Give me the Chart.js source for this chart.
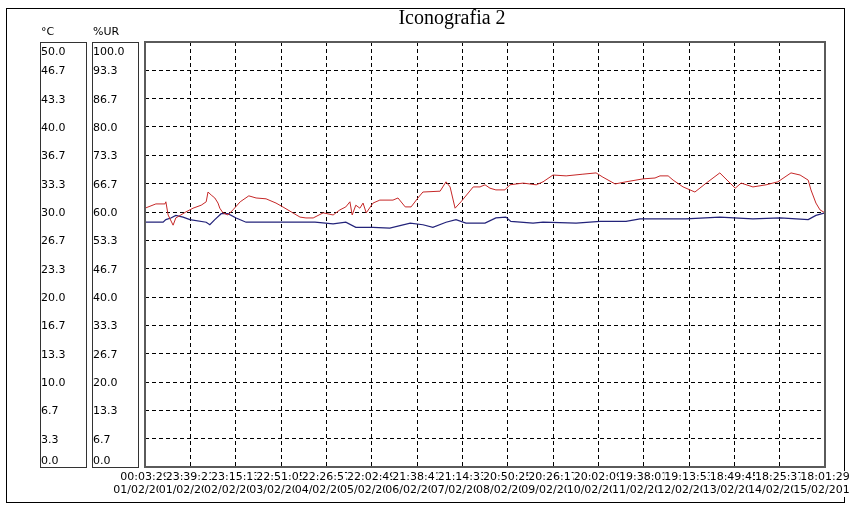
<!DOCTYPE html>
<html lang="it">
<head>
<meta charset="UTF-8">
<title>Iconografia 2</title>
<script src="https://cdn.jsdelivr.net/npm/chart.js@4.4.0/dist/chart.umd.min.js"></script>
<style>
    html, body { margin: 0; padding: 0; background: #ffffff; }
    #wrap { width: 849px; height: 506px; }
</style>
</head>
<body>
<div id="wrap"><canvas id="chart" width="849" height="506"></canvas></div>
<script>
// x positions are in days from the first sample (0 .. 15)
const urDays = [0.00, 0.24, 0.44, 0.46, 0.51, 0.62, 0.68, 0.79, 0.90, 1.06, 1.24, 1.35, 1.39, 1.46, 1.54, 1.61, 1.65, 1.72, 1.83, 1.94,
    2.10, 2.29, 2.45, 2.67, 2.89, 3.04, 3.26, 3.42, 3.55, 3.71, 3.93, 4.15, 4.30, 4.43, 4.52, 4.57, 4.65, 4.74, 4.81, 4.88,
    5.03, 5.18, 5.47, 5.58, 5.74, 5.87, 6.02, 6.13, 6.51, 6.64, 6.73, 6.84, 6.97, 7.24, 7.39, 7.50, 7.61, 7.74, 7.94, 8.05,
    8.34, 8.63, 8.78, 9.00, 9.29, 9.66, 9.95, 10.10, 10.37, 10.61, 10.99, 11.25, 11.36, 11.54, 11.65, 11.87, 12.13, 12.38, 12.68, 13.02,
    13.15, 13.41, 13.70, 13.96, 14.25, 14.45, 14.63, 14.69, 14.80, 14.89, 15.00];
const urValues = [60.9, 61.9, 61.9, 62.4, 59.3, 56.9, 58.6, 59.3, 60.0, 60.9, 61.6, 62.4, 64.7, 64.0, 63.3, 62.1, 60.9, 59.8, 59.3, 60.5,
    62.4, 63.8, 63.3, 63.1, 62.1, 61.2, 59.8, 58.8, 58.6, 58.6, 59.8, 59.3, 60.5, 61.2, 62.4, 59.3, 61.6, 60.9, 62.1, 59.8,
    62.1, 62.8, 62.8, 63.3, 61.2, 61.2, 63.3, 64.7, 64.9, 67.1, 65.9, 60.9, 62.4, 65.9, 65.9, 66.4, 65.6, 65.2, 65.2, 66.4,
    66.8, 66.4, 67.1, 68.7, 68.5, 68.9, 69.2, 68.2, 66.6, 67.1, 67.8, 68.0, 68.5, 68.5, 67.5, 65.9, 64.7, 66.8, 69.2, 65.6,
    66.8, 65.9, 66.4, 67.1, 69.2, 68.7, 67.5, 65.2, 62.1, 60.5, 59.8];

const tempDays = [0.00, 0.40, 0.46, 0.57, 0.68, 0.84, 0.99, 1.35, 1.43, 1.54, 1.68, 1.83, 2.01, 2.23, 2.54, 2.89, 3.75, 4.15, 4.43, 4.65,
    5.03, 5.40, 5.85, 6.13, 6.35, 6.64, 6.86, 7.08, 7.50, 7.74, 7.96, 8.07, 8.56, 8.78, 9.51, 10.04, 10.61, 10.92, 11.25, 11.93,
    12.68, 13.41, 14.01, 14.63, 14.80, 15.00];
const tempValues = [28.8, 28.8, 29.1, 29.3, 29.6, 29.4, 29.1, 28.8, 28.5, 29.1, 29.8, 29.8, 29.3, 28.8, 28.8, 28.8, 28.8, 28.6, 28.8, 28.2,
    28.2, 28.1, 28.7, 28.5, 28.2, 28.8, 29.1, 28.7, 28.7, 29.3, 29.4, 28.9, 28.7, 28.8, 28.7, 28.9, 28.9, 29.2, 29.2, 29.2,
    29.4, 29.2, 29.3, 29.1, 29.6, 29.9];

// axis ticks
const tempTicks = [0, 3.33, 6.67, 10, 13.33, 16.67, 20, 23.33, 26.67, 30, 33.33, 36.67, 40, 43.33, 46.67, 50];
const tempTickLabels = ['0.0', '3.3', '6.7', '10.0', '13.3', '16.7', '20.0', '23.3', '26.7', '30.0', '33.3', '36.7', '40.0', '43.3', '46.7', '50.0'];
const urTicks = [0, 6.67, 13.33, 20, 26.67, 33.33, 40, 46.67, 53.33, 60, 66.67, 73.33, 80, 86.67, 93.33, 100];
const urTickLabels = ['0.0', '6.7', '13.3', '20.0', '26.7', '33.3', '40.0', '46.7', '53.3', '60.0', '66.7', '73.3', '80.0', '86.7', '93.3', '100.0'];

const xTicks = [0, 1, 2, 3, 4, 5, 6, 7, 8, 9, 10, 11, 12, 13, 14, 15];
const timeLabels = ['00:03:29', '23:39:21', '23:15:13', '22:51:05', '22:26:57', '22:02:49', '21:38:41', '21:14:33',
    '20:50:25', '20:26:17', '20:02:09', '19:38:01', '19:13:53', '18:49:45', '18:25:37', '18:01:29'];
const dateLabels = ['01/02/2012', '01/02/2012', '02/02/2012', '03/02/2012', '04/02/2012', '05/02/2012', '06/02/2012', '07/02/2012',
    '08/02/2012', '09/02/2012', '10/02/2012', '11/02/2012', '12/02/2012', '13/02/2012', '14/02/2012', '15/02/2012'];

const labelFont = '11px "DejaVu Sans"';

// boxes, labels, title and frame round the plot
const framePlugin = {
    id: 'frame',
    beforeDraw(chart) {
        const ctx = chart.ctx;
        ctx.save();
        ctx.fillStyle = '#ffffff';
        ctx.fillRect(0, 0, chart.width, chart.height);
        ctx.restore();
    },
    afterDraw(chart) {
        const ctx = chart.ctx;
        const area = chart.chartArea;
        const yC = chart.scales.yC;
        const yUR = chart.scales.yUR;
        const x = chart.scales.x;
        ctx.save();

        // outer frame
        ctx.strokeStyle = '#000000';
        ctx.lineWidth = 1;
        ctx.strokeRect(6.5, 8.5, 838, 494);

        // plot border
        ctx.strokeStyle = '#5a5a5a';
        ctx.lineWidth = 2;
        ctx.strokeRect(area.left, area.top, area.right - area.left, area.bottom - area.top);

        // axis boxes
        ctx.strokeStyle = '#333333';
        ctx.lineWidth = 1;
        ctx.strokeRect(40.5, area.top + 0.5, 46, area.bottom - area.top);
        ctx.strokeRect(92.5, area.top + 0.5, 46, area.bottom - area.top);

        ctx.font = labelFont;
        ctx.fillStyle = '#000000';
        ctx.textAlign = 'left';
        ctx.textBaseline = 'middle';
        ctx.fillText('°C', 41, 32);
        ctx.fillText('%UR', 93, 32);

        tempTicks.forEach((v, i) => {
            let py = yC.getPixelForValue(v) + 1;
            py = Math.min(Math.max(py, area.top + 10), area.bottom - 6);
            ctx.fillText(tempTickLabels[i], 41, py);
        });
        urTicks.forEach((v, i) => {
            let py = yUR.getPixelForValue(v) + 1;
            py = Math.min(Math.max(py, area.top + 10), area.bottom - 6);
            ctx.fillText(urTickLabels[i], 93, py);
        });

        // x labels, each one painted over the previous one
        ctx.textAlign = 'center';
        xTicks.forEach((v, i) => {
            const px = x.getPixelForValue(v);
            [[timeLabels[i], 477], [dateLabels[i], 490]].forEach(([t, py]) => {
                const w = ctx.measureText(t).width;
                ctx.fillStyle = '#ffffff';
                ctx.fillRect(px - w / 2, py - 6, w, 13);
                ctx.fillStyle = '#000000';
                ctx.fillText(t, px, py);
            });
        });

        // title
        ctx.font = '20px "Liberation Serif"';
        ctx.fillText('Iconografia 2', 452, 19);
        ctx.restore();
    }
};

const dashedGrid = (ticks) => ({
    color: (c) => (c.index === 0 || c.index === ticks.length - 1) ? 'rgba(0,0,0,0)' : '#000000',
    lineWidth: 1,
    drawTicks: false
});

new Chart(document.getElementById('chart'), {
    type: 'line',
    data: {
        datasets: [{
            label: '%UR',
            data: urDays.map((d, i) => ({ x: d, y: urValues[i] })),
            yAxisID: 'yUR',
            borderColor: '#c62828',
            borderWidth: 1,
            pointRadius: 0,
            tension: 0
        }, {
            label: '°C',
            data: tempDays.map((d, i) => ({ x: d, y: tempValues[i] })),
            yAxisID: 'yC',
            borderColor: '#23237a',
            borderWidth: 1.2,
            pointRadius: 0,
            tension: 0
        }]
    },
    options: {
        responsive: false,
        animation: false,
        layout: { padding: { left: 145, top: 42, right: 24, bottom: 39 } },
        plugins: { legend: { display: false }, title: { display: false }, tooltip: { enabled: false } },
        scales: {
            x: {
                type: 'linear', min: 0, max: 15,
                afterBuildTicks: (s) => { s.ticks = xTicks.map(v => ({ value: v })); },
                ticks: { display: false },
                grid: dashedGrid(xTicks),
                border: { display: false, dash: [4, 3] }
            },
            yC: {
                type: 'linear', position: 'left', min: 0, max: 50,
                afterBuildTicks: (s) => { s.ticks = tempTicks.map(v => ({ value: v })); },
                ticks: { display: false },
                grid: dashedGrid(tempTicks),
                border: { display: false, dash: [4, 3] }
            },
            yUR: {
                type: 'linear', position: 'left', min: 0, max: 100, display: false
            }
        }
    },
    plugins: [framePlugin]
});
</script>
</body>
</html>
